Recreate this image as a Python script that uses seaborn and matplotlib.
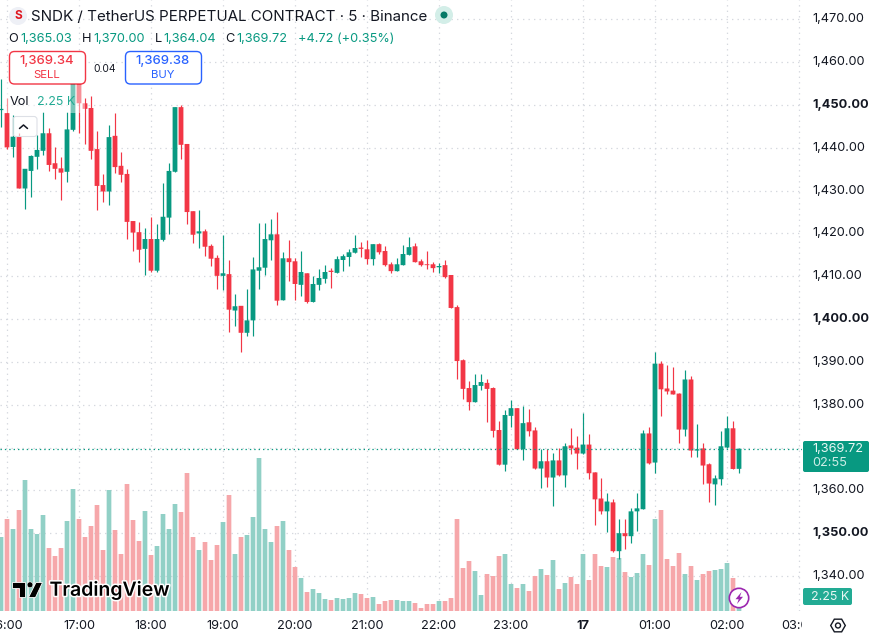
import matplotlib
matplotlib.use("Agg")
import matplotlib.pyplot as plt
import numpy as np
import pandas as pd
import seaborn as sns
from matplotlib.patches import Circle, FancyBboxPatch, Polygon, Rectangle, RegularPolygon
from matplotlib.lines import Line2D
from matplotlib.transforms import Affine2D, Bbox, IdentityTransform, TransformedBbox
import matplotlib.patheffects as pe

# 5-minute SNDK/USDT candles
opens = [1448.8,1448.1,1440.2,1442.6,1430.5,1434.6,1437.9,1439.3,1443.4,1436.4,1435.2,1434.4,1444.2,1455.1,1450.4,1449.3,1439.7,1431.3,1429.8,1442.8,1435.8,1433.9,1422.9,1420.3,1416.4,1418.7,1411.3,1418.5,1423.7,1434.4,1449.5,1440.9,1425.2,1420.0,1420.5,1417.1,1414.3,1410.1,1410.5,1402.0,1403.1,1396.8,1399.7,1411.3,1412.0,1418.4,1419.8,1404.4,1414.2,1413.5,1408.0,1410.7,1404.0,1408.0,1409.4,1411.3,1410.8,1413.8,1414.5,1415.5,1416.7,1416.3,1414.0,1417.5,1415.9,1412.8,1411.2,1412.6,1415.0,1417.0,1413.5,1412.8,1412.8,1412.1,1412.6,1410.3,1402.8,1390.4,1383.9,1380.6,1384.4,1385.1,1383.9,1374.1,1366.0,1377.4,1379.2,1369.6,1375.9,1374.0,1365.1,1366.8,1363.0,1367.0,1363.5,1370.5,1370.0,1368.6,1370.7,1364.2,1358.1,1355.1,1357.2,1345.8,1350.0,1349.3,1355.1,1355.6,1373.3,1366.5,1389.6,1383.8,1383.3,1382.6,1374.2,1385.9,1369.3,1369.8,1366.1,1361.4,1362.6,1370.0,1374.5,1365.03]
highs = [1456.0,1451.6,1447.7,1443.4,1435.1,1438.3,1443.0,1448.3,1444.6,1440.1,1437.8,1448.3,1455.8,1455.8,1451.6,1452.1,1443.9,1433.9,1445.3,1448.2,1439.1,1435.0,1422.9,1422.7,1421.2,1423.9,1422.2,1431.7,1436.4,1449.6,1450.0,1440.9,1425.2,1425.5,1421.1,1417.5,1414.9,1419.7,1413.8,1405.9,1403.1,1407.0,1414.5,1422.4,1422.4,1423.3,1425.0,1415.6,1418.4,1414.2,1415.9,1410.7,1410.0,1411.6,1412.6,1411.9,1414.7,1415.3,1416.4,1419.6,1418.0,1418.4,1417.5,1417.8,1417.0,1413.3,1414.2,1417.3,1419.2,1417.7,1414.0,1415.9,1413.3,1413.1,1413.8,1410.3,1403.3,1390.6,1385.5,1387.2,1387.2,1386.0,1384.1,1376.2,1378.8,1381.1,1379.2,1379.7,1378.9,1374.7,1369.6,1369.6,1368.8,1369.8,1371.0,1374.5,1372.6,1378.0,1373.1,1364.2,1363.0,1359.3,1357.9,1353.2,1353.2,1356.0,1359.5,1374.2,1374.9,1392.2,1390.1,1389.2,1388.9,1382.8,1388.0,1386.6,1375.4,1371.0,1366.3,1363.5,1373.8,1377.3,1376.1,1370.00]
lows = [1444.9,1439.7,1437.8,1430.5,1425.8,1428.6,1435.1,1438.3,1434.7,1432.7,1427.7,1432.1,1444.0,1443.5,1440.9,1437.5,1425.5,1427.4,1426.7,1434.2,1432.1,1418.6,1416.0,1413.4,1410.4,1410.9,1411.0,1418.3,1419.9,1434.4,1437.5,1422.2,1417.7,1416.6,1414.8,1412.4,1407.1,1406.8,1397.0,1398.4,1392.3,1396.1,1396.1,1407.1,1410.3,1413.8,1403.4,1404.4,1409.0,1404.4,1405.4,1403.8,1404.0,1406.8,1408.5,1407.2,1410.8,1411.2,1412.4,1415.5,1414.5,1412.8,1412.6,1415.2,1412.4,1410.7,1411.2,1412.6,1415.0,1413.3,1412.4,1411.7,1411.0,1410.7,1409.6,1402.6,1386.0,1381.3,1378.8,1380.6,1383.4,1376.0,1372.5,1366.0,1364.5,1374.8,1369.6,1367.1,1372.8,1365.1,1360.5,1360.7,1356.4,1363.3,1360.7,1368.6,1365.1,1368.6,1362.6,1351.8,1354.4,1350.2,1345.5,1343.9,1346.2,1347.6,1350.4,1355.6,1366.1,1364.0,1377.3,1382.6,1382.4,1371.0,1372.6,1367.7,1367.7,1361.4,1357.2,1356.5,1361.2,1369.8,1365.0,1364.04]
closes = [1449.1,1440.1,1442.6,1430.5,1435.1,1438.1,1439.5,1443.4,1436.0,1435.1,1434.2,1444.3,1455.1,1450.4,1449.1,1439.3,1431.1,1429.8,1442.5,1435.5,1433.7,1422.7,1420.2,1416.2,1418.7,1411.3,1418.7,1423.9,1434.6,1449.5,1440.7,1425.0,1419.7,1420.5,1416.9,1414.1,1410.1,1410.7,1402.2,1403.0,1396.8,1399.7,1411.6,1412.1,1418.7,1419.8,1404.3,1414.2,1413.3,1408.2,1411.0,1404.0,1408.2,1409.6,1411.0,1411.0,1414.0,1414.7,1415.6,1416.6,1416.4,1414.0,1417.5,1415.6,1412.6,1411.2,1412.8,1415.2,1416.8,1413.3,1412.6,1412.6,1411.9,1412.4,1409.8,1402.6,1390.2,1383.7,1380.6,1384.6,1385.3,1383.7,1373.9,1366.0,1377.6,1379.2,1369.6,1375.7,1373.8,1365.1,1366.8,1363.0,1367.0,1363.5,1370.3,1369.8,1368.6,1370.7,1364.0,1357.9,1355.1,1357.4,1345.8,1350.0,1349.3,1355.1,1355.8,1373.3,1366.3,1389.6,1383.6,1383.1,1382.4,1374.2,1385.9,1369.3,1369.6,1365.8,1361.6,1362.8,1370.3,1374.5,1365.0,1369.72]
volumes = [55.5,69,61.5,75.75,98.25,61.5,57.75,72,47.25,41.25,47.25,67.5,91.5,69,55.5,63.75,79.5,45.75,90.75,60.75,42.75,95.25,68.25,52.5,75,42,48.75,72.75,61.5,80.25,74.25,103.5,55.5,45.75,51.75,38.25,49.5,66.75,87,42.75,55.5,57,70.5,114.75,61.5,51.75,63.75,67.5,45.75,33,24.75,14.25,16.5,13.5,9,8.25,9.75,9,9.75,13.5,12.75,9.75,10.5,5.25,7.5,8.25,8.25,7.5,7.5,6,2.25,5.25,5.25,7.5,7.5,9.75,69,32.25,37.5,30,12,27.75,26.25,41.25,42.75,20.25,17.25,20.25,15,26.25,31.5,27,38.25,16.5,21,25.5,20.25,42.75,23.25,42.75,33.75,33,40.5,39.75,29.25,25.5,28.5,42.75,34.5,69,75.75,39,33.75,43.5,27.75,33.75,23.25,27.75,30,30.75,31.5,36,24.75,2.25]

hour_ticks = [1, 13, 25, 37, 49, 61, 73, 85, 97, 109, 121, 133]
hour_labels = ["16:00", "17:00", "18:00", "19:00", "20:00", "21:00", "22:00", "23:00", "17", "01:00", "02:00", "03:00"]
price_ticks = [1340, 1350, 1360, 1370, 1380, 1390, 1400, 1410, 1420, 1430, 1440, 1450, 1460, 1470]
bold_prices = [1350, 1400, 1450]
last_price = 1369.72

UP = "#089981"
DOWN = "#F23645"
VOL_UP = "#91D0C6"
VOL_DOWN = "#F6A7AA"
INK = "#131722"
GRID = "#D5D8DF"
FONT = "Inter"

sns.set_theme(style="white")
plt.rcParams["font.family"] = [FONT, "DejaVu Sans"]

W, H = 874, 639
fig = plt.figure(figsize=(W / 100, H / 100), dpi=100, facecolor="white")
pane = [0, (H - 611) / H, 802 / W, 611 / H]
# screen-pixel placement for the overlay widgets, origin at the top left
px = Affine2D().scale(1, -1).translate(0, H)

df = pd.DataFrame({"bar": np.arange(len(opens)), "open": opens, "high": highs,
                   "low": lows, "close": closes, "volume": volumes})
df["side"] = np.where(df["close"] >= df["open"], "up", "down")

xlim = (-1 / 6, 133.5)
ylim = (1331.83, 1474.52)

# Price pane: gridlines and axis labels
ax = fig.add_axes(pane, zorder=0)
ax.set_xlim(xlim)
ax.set_ylim(ylim)
ax.set_xticks(hour_ticks, hour_labels)
ax.set_yticks(price_ticks, [f"{p:,.2f}" for p in price_ticks])
ax.yaxis.tick_right()
ax.tick_params(axis="y", length=0, pad=7.5, labelsize=9.2, labelcolor=INK)
ax.tick_params(axis="x", length=0, pad=6.5, labelsize=9.2, labelcolor=INK)
ax.grid(True, color=GRID, lw=0.9, linestyle=(0, (1.1, 3.3)))
ax.set_axisbelow(True)
sns.despine(ax=ax, left=True, right=True, top=True, bottom=True)
for value, label_ in zip(price_ticks, ax.get_yticklabels()):
    label_.set_verticalalignment("center")
    if value in bold_prices:
        label_.set_fontweight("bold")
for text, label_ in zip(hour_labels, ax.get_xticklabels()):
    if text == "17":
        label_.set_fontweight("bold")
    # the time scale stops where the price scale begins
    label_.set_clip_box(TransformedBbox(Bbox([[0, 0], [802, H]]), IdentityTransform()))
    label_.set_clip_on(True)

# Volume histogram along the bottom of the pane
ax_vol = fig.add_axes(pane, zorder=1, sharex=ax)
ax_vol.patch.set_visible(False)
sns.barplot(data=df, x="bar", y="volume", hue="side", native_scale=True, dodge=False,
            palette={"up": VOL_UP, "down": VOL_DOWN}, saturation=1, width=0.78,
            errorbar=None, legend=False, ax=ax_vol, linewidth=0)
for bar in ax_vol.patches:
    bar.set_snap(False)
ax_vol.set_xlim(xlim)
ax_vol.set_ylim(0, 458.25)
ax_vol.axis("off")

# Candles on top of the volume
ax_c = fig.add_axes(pane, zorder=2, sharex=ax, sharey=ax)
ax_c.patch.set_visible(False)
colors = df["side"].map({"up": UP, "down": DOWN})
ax_c.vlines(df["bar"], df["low"], df["high"], colors=colors, lw=0.85)
body_low = df[["open", "close"]].min(axis=1)
body_size = (df["open"] - df["close"]).abs().clip(lower=0.2)
bodies = ax_c.bar(df["bar"], body_size, bottom=body_low, width=0.8, color=colors, linewidth=0)
for body in bodies:
    body.set_snap(False)
ax_c.axhline(last_price, color=UP, lw=0.9, linestyle=(0, (1.1, 2.4)))
ax_c.set_xlim(xlim)
ax_c.set_ylim(ylim)
ax_c.axis("off")


def label(x, y, s, color=INK, size=9.2, weight="normal", ha="left", **kw):
    return fig.text(x, y + 1, s, transform=px, color=color, fontsize=size, fontweight=weight,
                    ha=ha, va="center", zorder=10, **kw)


def box(x0, y0, x1, y1, edge, face="white", radius=5, lw=1.0, alpha=None):
    patch = FancyBboxPatch((x0, y0), x1 - x0, y1 - y0, boxstyle=f"round,pad=0,rounding_size={radius}",
                           transform=px, edgecolor=edge, facecolor=face, linewidth=lw, alpha=alpha, zorder=9)
    fig.add_artist(patch)
    return patch


# Symbol header
fig.add_artist(Circle((18, 16), 9, transform=px, facecolor="#EEF0F6", edgecolor="none", zorder=9))
label(18, 15, "S", color="#E0161F", size=8.5, weight="bold", ha="center")
label(31, 16, "SNDK / TetherUS PERPETUAL CONTRACT · 5 · Binance", size=10.9)
fig.add_artist(Circle((444, 15), 9, transform=px, facecolor="#D3EEE8", edgecolor="none", zorder=9))
fig.add_artist(Circle((444, 15), 3.5, transform=px, facecolor="#067A67", edgecolor="none", zorder=10))

# OHLC readout
for x, s, c in [(8, "O", INK), (20, "1,365.03", UP), (82, "H", INK), (93, "1,370.00", UP),
                (155, "L", INK), (163, "1,364.04", UP), (225, "C", INK), (236, "1,369.72", UP),
                (298, "+4.72 (+0.35%)", UP)]:
    label(x, 38, s, color=c)

# Order buttons
box(9.5, 51.5, 85.5, 84, DOWN)
label(47, 60, "1,369.34", color=DOWN, size=9.4, weight="medium", ha="center")
label(47, 74.5, "SELL", color=DOWN, size=8.2, ha="center")
label(105, 68, "0.04", size=7.4, ha="center")
box(125.5, 51.5, 201.5, 84, "#2962FF")
label(163, 60, "1,369.38", color="#2962FF", size=9.4, weight="medium", ha="center")
label(163, 74.5, "BUY", color="#2962FF", size=8.2, ha="center")

# Volume legend row with its translucent backing and collapse button
fig.add_artist(Rectangle((5, 85), 80, 28, transform=px, facecolor="white", alpha=0.45, edgecolor="none", zorder=8))
label(10, 101, "Vol")
label(37, 101, "2.25 K", color="#22AB94", size=8.9)
box(13, 116.5, 37, 136.5, "#DDE0E6", face=(1, 1, 1, 0.6), radius=3, lw=0.8)
fig.add_artist(Line2D([19.5, 23.5, 27.5], [128.5, 125, 128.5], transform=px, color=INK, lw=1.1, zorder=10))

# Watermark
logo_fx = [pe.withStroke(linewidth=2.2, foreground="white")]
label(49.5, 589.5, "TradingView", color="black", size=14.0, weight="semibold", path_effects=logo_fx)
for pts in ([(12, 582), (25, 582), (25, 597), (18.5, 597), (18.5, 588), (12, 588)],
            [(36, 582.5), (42.5, 582.5), (35.5, 597.5), (28.5, 597.5)]):
    fig.add_artist(Polygon(pts, transform=px, facecolor="black", edgecolor="white", linewidth=0.6, zorder=10))
fig.add_artist(Circle((30, 584.8), 2.9, transform=px, facecolor="black", edgecolor="white", linewidth=0.4, zorder=10))

# Bolt badge at the end of the time scale
fig.add_artist(Circle((739, 598), 9.7, transform=px, facecolor="white", edgecolor="#9C27B0", linewidth=1.2, zorder=10))
fig.add_artist(Polygon([(741.5, 592), (735.5, 599.2), (738.7, 599.2), (737, 604), (743, 596.8), (739.8, 596.8)],
                       transform=px, facecolor="#9C27B0", edgecolor="none", zorder=11))

# Price scale tags
box(803, 441, 869, 472, UP, face=UP, radius=2, lw=0)
label(812, 448, "1,369.72", color="#E9F7F4")
label(812, 462, "02:55", color="#CDEDE6")
box(803, 588, 852, 605, "#22AB94", face="#22AB94", radius=2, lw=0)
label(811, 596, "2.25 K", color="#E9F7F4", size=8.9)

# Settings cog
fig.add_artist(RegularPolygon((838, 625.5), 6, radius=7.3, orientation=np.pi / 2, transform=px,
                              facecolor="white", edgecolor=INK, linewidth=1.0, zorder=10))
fig.add_artist(Circle((838, 625.5), 2.5, transform=px, facecolor="white", edgecolor=INK, linewidth=1.0, zorder=11))

fig.savefig("out.png", dpi=100, facecolor="white")
